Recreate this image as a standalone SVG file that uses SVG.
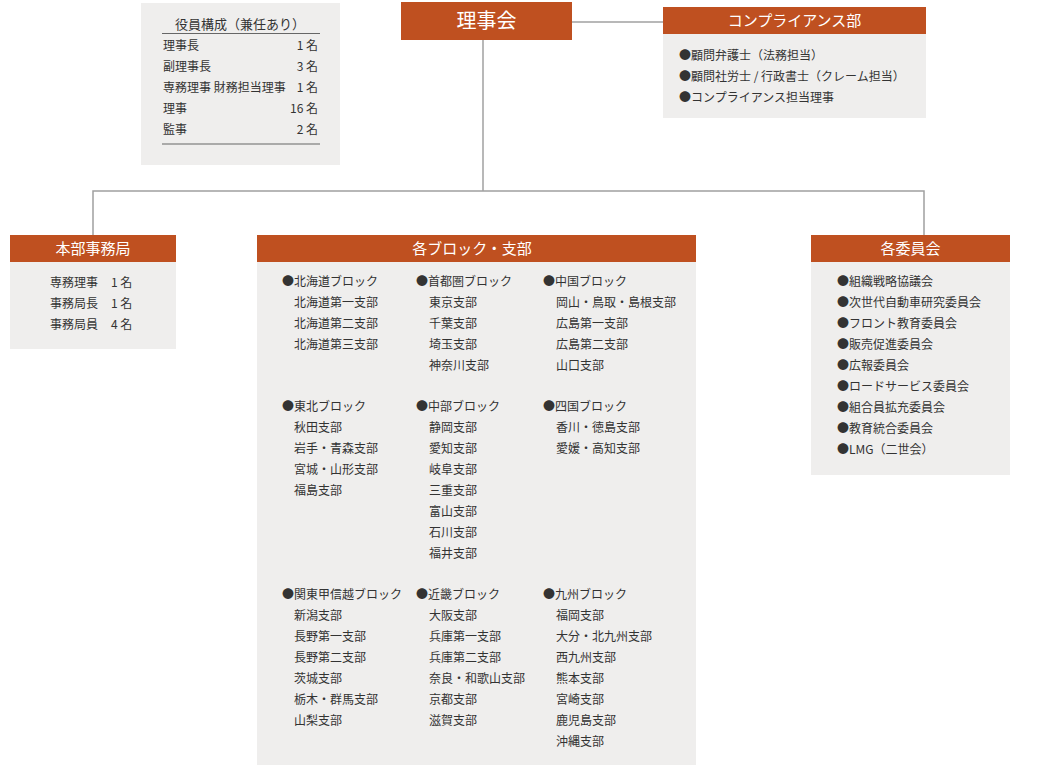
<svg xmlns="http://www.w3.org/2000/svg" width="1052" height="770" viewBox="0 0 1052 770">
<style>
.hd{fill:#bf5020}
.bd{fill:#efeeed}
.ht{fill:#ffffff;font-family:"Noto Sans CJK JP","Noto Sans",sans-serif;font-size:15px;text-anchor:middle}
.t{fill:#333333;font-family:"Noto Sans CJK JP","Noto Sans",sans-serif;font-size:12px}
.r{text-anchor:end}
.ln{stroke:#a0a0a0;stroke-width:1.5;fill:none}
.rule{stroke:#666666;stroke-width:1.2}
</style>
<rect width="1052" height="770" fill="#ffffff"/>
<g id="connectors">
<path class="ln" d="M572 22H663"/>
<path class="ln" d="M483 40V191"/>
<path class="ln" d="M93 235V191H924V235"/>
</g>
<g id="officers">
<rect class="bd" x="141" y="3" width="199" height="162"/>
<text class="t" x="240" y="29" text-anchor="middle" style="font-size:13px">役員構成（兼任あり）</text>
<line class="rule" x1="162" y1="33.5" x2="320" y2="33.5"/>
<text class="t" x="163" y="50">理事長</text><text class="t r" x="318" y="50">1 名</text>
<text class="t" x="163" y="71">副理事長</text><text class="t r" x="318" y="71">3 名</text>
<text class="t" x="163" y="92">専務理事 財務担当理事</text><text class="t r" x="318" y="92">1 名</text>
<text class="t" x="163" y="113">理事</text><text class="t r" x="318" y="113">16 名</text>
<text class="t" x="163" y="134">監事</text><text class="t r" x="318" y="134">2 名</text>
<line class="rule" x1="162" y1="144" x2="320" y2="144"/>
</g>
<g id="board">
<rect class="hd" x="401" y="2" width="171" height="38"/>
<text class="ht" x="486.5" y="28" style="font-size:20px">理事会</text>
</g>
<g id="compliance">
<rect class="hd" x="663" y="7" width="263" height="27"/>
<rect class="bd" x="663" y="34" width="263" height="84"/>
<text class="ht" x="794.5" y="26">コンプライアンス部</text>
<text class="t" x="679" y="60">●顧問弁護士（法務担当）</text>
<text class="t" x="679" y="81">●顧問社労士 / 行政書士（クレーム担当）</text>
<text class="t" x="679" y="102">●コンプライアンス担当理事</text>
</g>
<g id="honbu">
<rect class="hd" x="10" y="235" width="166" height="27"/>
<rect class="bd" x="10" y="262" width="166" height="87"/>
<text class="ht" x="93" y="254">本部事務局</text>
<text class="t" x="50" y="287">専務理事</text><text class="t" x="111" y="287">1 名</text>
<text class="t" x="50" y="308">事務局長</text><text class="t" x="111" y="308">1 名</text>
<text class="t" x="50" y="329">事務局員</text><text class="t" x="111" y="329">4 名</text>
</g>
<g id="blocks">
<rect class="hd" x="257" y="235" width="439" height="27"/>
<rect class="bd" x="257" y="262" width="439" height="503"/>
<text class="ht" x="472" y="254">各ブロック・支部</text>
<text class="t" x="282" y="286">●北海道ブロック</text>
<text class="t" x="294" y="307">北海道第一支部</text>
<text class="t" x="294" y="328">北海道第二支部</text>
<text class="t" x="294" y="349">北海道第三支部</text>
<text class="t" x="416" y="286">●首都圏ブロック</text>
<text class="t" x="429" y="307">東京支部</text>
<text class="t" x="429" y="328">千葉支部</text>
<text class="t" x="429" y="349">埼玉支部</text>
<text class="t" x="429" y="370">神奈川支部</text>
<text class="t" x="543" y="286">●中国ブロック</text>
<text class="t" x="556" y="307">岡山・鳥取・島根支部</text>
<text class="t" x="556" y="328">広島第一支部</text>
<text class="t" x="556" y="349">広島第二支部</text>
<text class="t" x="556" y="370">山口支部</text>
<text class="t" x="282" y="411">●東北ブロック</text>
<text class="t" x="294" y="432">秋田支部</text>
<text class="t" x="294" y="453">岩手・青森支部</text>
<text class="t" x="294" y="474">宮城・山形支部</text>
<text class="t" x="294" y="495">福島支部</text>
<text class="t" x="416" y="411">●中部ブロック</text>
<text class="t" x="429" y="432">静岡支部</text>
<text class="t" x="429" y="453">愛知支部</text>
<text class="t" x="429" y="474">岐阜支部</text>
<text class="t" x="429" y="495">三重支部</text>
<text class="t" x="429" y="516">富山支部</text>
<text class="t" x="429" y="537">石川支部</text>
<text class="t" x="429" y="558">福井支部</text>
<text class="t" x="543" y="411">●四国ブロック</text>
<text class="t" x="556" y="432">香川・徳島支部</text>
<text class="t" x="556" y="453">愛媛・高知支部</text>
<text class="t" x="282" y="599">●関東甲信越ブロック</text>
<text class="t" x="294" y="620">新潟支部</text>
<text class="t" x="294" y="641">長野第一支部</text>
<text class="t" x="294" y="662">長野第二支部</text>
<text class="t" x="294" y="683">茨城支部</text>
<text class="t" x="294" y="704">栃木・群馬支部</text>
<text class="t" x="294" y="725">山梨支部</text>
<text class="t" x="416" y="599">●近畿ブロック</text>
<text class="t" x="429" y="620">大阪支部</text>
<text class="t" x="429" y="641">兵庫第一支部</text>
<text class="t" x="429" y="662">兵庫第二支部</text>
<text class="t" x="429" y="683">奈良・和歌山支部</text>
<text class="t" x="429" y="704">京都支部</text>
<text class="t" x="429" y="725">滋賀支部</text>
<text class="t" x="543" y="599">●九州ブロック</text>
<text class="t" x="556" y="620">福岡支部</text>
<text class="t" x="556" y="641">大分・北九州支部</text>
<text class="t" x="556" y="662">西九州支部</text>
<text class="t" x="556" y="683">熊本支部</text>
<text class="t" x="556" y="704">宮崎支部</text>
<text class="t" x="556" y="725">鹿児島支部</text>
<text class="t" x="556" y="746">沖縄支部</text>
</g>
<g id="committees">
<rect class="hd" x="811" y="235" width="199" height="27"/>
<rect class="bd" x="811" y="262" width="199" height="213"/>
<text class="ht" x="910.5" y="254">各委員会</text>
<text class="t" x="837" y="286">●組織戦略協議会</text>
<text class="t" x="837" y="307">●次世代自動車研究委員会</text>
<text class="t" x="837" y="328">●フロント教育委員会</text>
<text class="t" x="837" y="349">●販売促進委員会</text>
<text class="t" x="837" y="370">●広報委員会</text>
<text class="t" x="837" y="391">●ロードサービス委員会</text>
<text class="t" x="837" y="412">●組合員拡充委員会</text>
<text class="t" x="837" y="433">●教育統合委員会</text>
<text class="t" x="837" y="454">●LMG（二世会）</text>
</g>
</svg>
